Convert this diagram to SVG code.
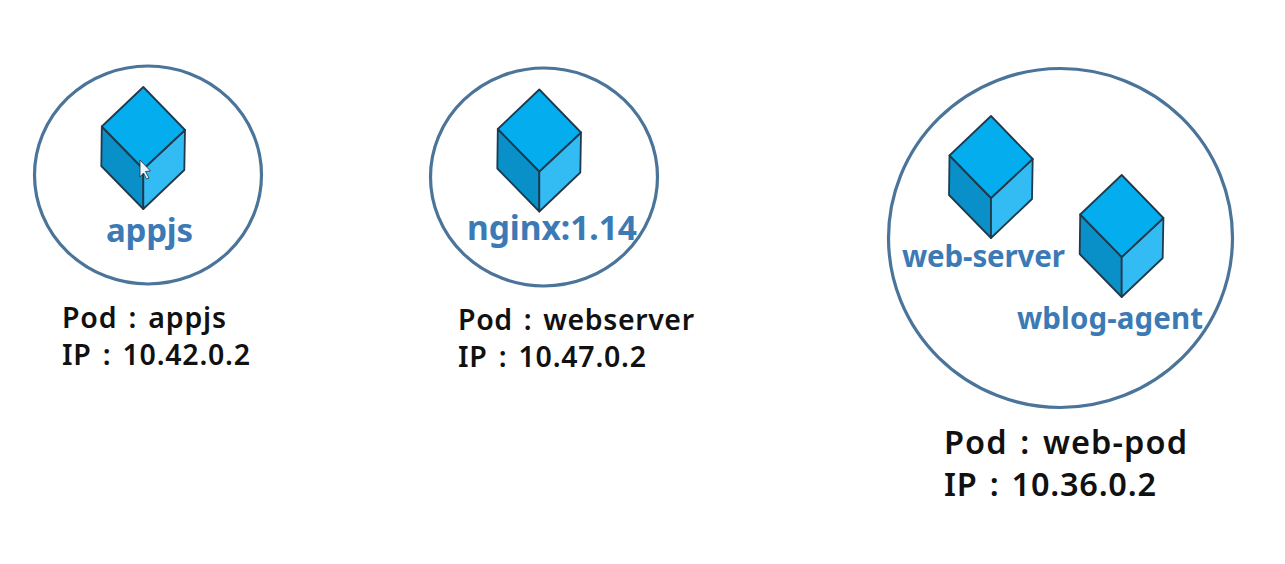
<svg xmlns="http://www.w3.org/2000/svg" width="1285" height="564" viewBox="0 0 1285 564">
<style>
.pod{fill:#fff;stroke:#4a7499;stroke-width:3.2}
.edge{stroke:#1f3a4d;stroke-width:1.8;stroke-linejoin:round}
.top{fill:#04aeee}.left{fill:#0a90c8}.right{fill:#32bcf3}
.c{font-family:"Noto Sans","Liberation Sans",sans-serif;font-weight:700;fill:#3c7ab5}
.t{font-family:"Noto Sans","Liberation Sans",sans-serif;font-weight:600;fill:#111;word-spacing:3px}
</style>
<defs>
<g id="cube">
<path class="left edge" d="M-41.500 39.500L0 82V122L-42 79Z"/>
<path class="right edge" d="M41.700 43L0 82V122L41 83Z"/>
<path class="top edge" d="M0 0L41.700 43L0 82L-41.500 39.500Z"/>
</g>
</defs>
<rect width="1285" height="564" fill="#fff"/>
<g id="connectors"/>
<g id="pod-appjs">
<ellipse class="pod" cx="148" cy="175" rx="113.500" ry="109"/>
<use href="#cube" x="143.300" y="87"/>
<path d="M140 160L150.500 171L145.500 171.500L149 178L146.500 179L143.500 173L140 177Z" fill="#eaf6fd" stroke="#20303c" stroke-width="0.800"/>
<text class="c" x="149.500" y="242" font-size="33" text-anchor="middle" textLength="87">appjs</text>
<text class="t" x="62" y="328" font-size="28.500" textLength="164">Pod : appjs</text>
<text class="t" x="62" y="365" font-size="28.500" textLength="188">IP : 10.42.0.2</text>
</g>
<g id="pod-webserver">
<ellipse class="pod" cx="544" cy="177" rx="113.500" ry="109"/>
<use href="#cube" x="539.300" y="89.500"/>
<text class="c" x="552" y="240" font-size="33.500" text-anchor="middle" textLength="170">nginx:1.14</text>
<text class="t" x="458" y="330" font-size="28.500" textLength="236">Pod : webserver</text>
<text class="t" x="458" y="367" font-size="28.500" textLength="188">IP : 10.47.0.2</text>
</g>
<g id="pod-web-pod">
<ellipse class="pod" cx="1060.500" cy="238" rx="172" ry="169.500"/>
<use href="#cube" x="991" y="116"/>
<use href="#cube" x="1121.700" y="175"/>
<text class="c" x="902" y="267" font-size="29.500" textLength="163">web-server</text>
<text class="c" x="1017" y="329" font-size="29.500" textLength="186">wblog-agent</text>
<text class="t" x="944" y="454" font-size="32.500" textLength="243">Pod : web-pod</text>
<text class="t" x="944" y="496" font-size="32.500" textLength="212">IP : 10.36.0.2</text>
</g>
</svg>
